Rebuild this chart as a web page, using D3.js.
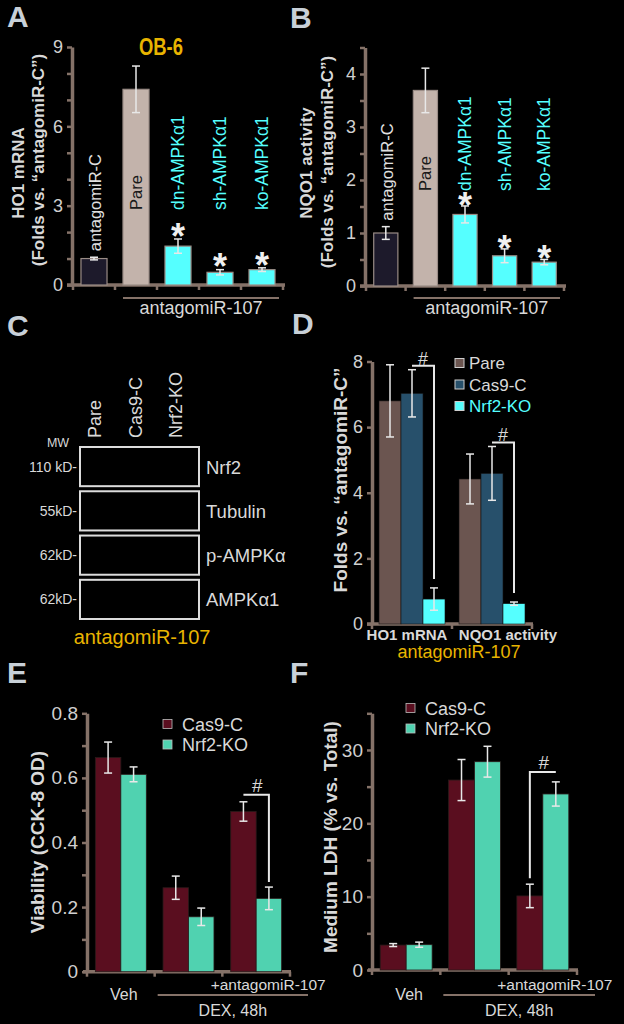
<!DOCTYPE html>
<html><head><meta charset="utf-8">
<script src="https://cdn.jsdelivr.net/npm/d3@7"></script>
<style>body{margin:0;background:#000;} svg{display:block;}</style>
</head><body>
<script>
// ---------------- DATA ----------------
const aCategories = ["antagomiR-C","Pare","dn-AMPKα1","sh-AMPKα1","ko-AMPKα1"];
const aValues = [1.0, 7.4, 1.47, 0.48, 0.58];
const aErrors = [0.05, 0.88, 0.27, 0.1, 0.07];
const aSignificant = [false, false, true, true, true];
const aTickValues = [0,1,2,3,4,5,6,7,8,9];
const aTickLabels = ["0","","","3","","","6","","","9"];

const bCategories = ["antagomiR-C","Pare","dn-AMPKα1","sh-AMPKα1","ko-AMPKα1"];
const bValues = [1.0, 3.69, 1.35, 0.57, 0.45];
const bErrors = [0.12, 0.42, 0.16, 0.13, 0.05];
const bSignificant = [false, false, true, true, true];
const bTickValues = [0,0.5,1,1.5,2,2.5,3,3.5,4,4.5];
const bTickLabels = ["0","","1","","2","","3","","4",""];

const cLanes = ["Pare","Cas9-C","Nrf2-KO"];
const cBlots = ["Nrf2","Tubulin","p-AMPKα","AMPKα1"];
const cMW = ["110 kD-","55kD-","62kD-","62kD-"];

const dGroups = ["HO1 mRNA","NQO1 activity"];
const dSeries = ["Pare","Cas9-C","Nrf2-KO"];
const dPare = [6.8, 4.42];
const dPareErr = [1.1, 0.76];
const dCas9 = [7.03, 4.59];
const dCas9Err = [0.72, 0.82];
const dNrf2 = [0.76, 0.62];
const dNrf2Err = [0.34, 0.05];
const dTickValues = [0,2,4,6,8];

const eGroups = ["Veh","DEX","DEX+antagomiR-107"];
const eSeries = ["Cas9-C","Nrf2-KO"];
const eCas9 = [0.663, 0.26, 0.496];
const eCas9Err = [0.048, 0.036, 0.03];
const eNrf2 = [0.611, 0.17, 0.227];
const eNrf2Err = [0.023, 0.027, 0.035];
const eTickValues = [0,0.1,0.2,0.3,0.4,0.5,0.6,0.7,0.8];
const eTickLabels = ["0","","0.2","","0.4","","0.6","","0.8"];

const fGroups = ["Veh","DEX","DEX+antagomiR-107"];
const fSeries = ["Cas9-C","Nrf2-KO"];
const fCas9 = [3.4, 25.9, 10.1];
const fCas9Err = [0.2, 2.8, 1.6];
const fNrf2 = [3.45, 28.4, 24.0];
const fNrf2Err = [0.35, 2.1, 1.65];
const fTickValues = [0,5,10,15,20,25,30,35];
const fTickLabels = ["0","","10","","20","","30",""];

// ---------------- STYLE ----------------
const FONT = '"Liberation Sans", Arial, Helvetica, sans-serif';
const AXIS = "#857268";
const TXT = "#d9d9d9";
const TICKTXT = "#d0d0d0";
const ERR = "#e8e8e8";
const GOLD = "#e8b400";
const CYAN = "#55ffff";
const LETTER = "#c8d0d8";
const abColors = ["#1d1a2b","#c3b3ab",CYAN,CYAN,CYAN];
const dColors = ["#6b5550","#27506b",CYAN];
const efColors = ["#5a0e1f","#50d2b0"];

const svg = d3.select("body").append("svg")
  .attr("width",624).attr("height",1024)
  .style("background","#000")
  .attr("font-family",FONT);
svg.append("rect").attr("width",624).attr("height",1024).attr("fill","#000");

// ---------------- HELPERS ----------------
function text(x,y,t,o={}){
  return svg.append("text").attr("x",x).attr("y",y).text(t)
    .attr("fill",o.fill||TXT).attr("font-size",o.size||16)
    .attr("font-weight",o.weight||"normal")
    .attr("text-anchor",o.anchor||"start");
}
function vtext(x,y,t,o={}){
  return svg.append("text").attr("transform",`translate(${x},${y}) rotate(-90)`)
    .attr("dy","0.35em").text(t)
    .attr("fill",o.fill||TXT).attr("font-size",o.size||16)
    .attr("font-weight",o.weight||"normal")
    .attr("text-anchor",o.anchor||"start");
}
function yAxis(x,y,vals,labels,size){
  const ax = d3.axisLeft(y).tickValues(vals).tickFormat((d,i)=>labels[i])
    .tickSize(5).tickSizeOuter(0).tickPadding(4);
  const g = svg.append("g").attr("transform",`translate(${x},0)`).call(ax)
    .attr("font-family",FONT).attr("font-size",size);
  g.select(".domain").attr("stroke",AXIS).attr("stroke-width",3.5);
  g.selectAll(".tick line").attr("stroke",AXIS).attr("stroke-width",2.5);
  g.selectAll(".tick text").attr("fill",TICKTXT);
  return g;
}
function xAxis(xs,xe,yPos,tickXs){
  svg.append("line").attr("x1",xs).attr("x2",xe).attr("y1",yPos).attr("y2",yPos)
    .attr("stroke",AXIS).attr("stroke-width",3.5);
  svg.selectAll(null).data(tickXs).join("line")
    .attr("x1",d=>d).attr("x2",d=>d).attr("y1",yPos).attr("y2",yPos+5)
    .attr("stroke",AXIS).attr("stroke-width",2.5);
}
function errBar(cx,yTop,yBot,w=8){
  svg.append("line").attr("x1",cx).attr("x2",cx).attr("y1",yTop).attr("y2",yBot).attr("stroke",ERR).attr("stroke-width",1.5);
  svg.append("line").attr("x1",cx-w/2).attr("x2",cx+w/2).attr("y1",yTop).attr("y2",yTop).attr("stroke",ERR).attr("stroke-width",1.5);
  svg.append("line").attr("x1",cx-w/2).attr("x2",cx+w/2).attr("y1",yBot).attr("y2",yBot).attr("stroke",ERR).attr("stroke-width",1.5);
}
function boundaries(x){
  const n = x.domain().length;
  return d3.range(n+1).map(i=>x.range()[0]+i*x.step());
}
function letter(x,y,t){ text(x,y,t,{size:30,weight:"bold",fill:LETTER}); }

// ---------------- PANEL A / B ----------------
function panelAB(cfg){
  const y = d3.scaleLinear().domain([0,cfg.max]).range([cfg.yBot,cfg.yTop]);
  const x = d3.scaleBand().domain(cfg.cats).range(cfg.xRange).paddingInner(cfg.pad).paddingOuter(cfg.pad/2);
  yAxis(cfg.xRange[0]-1,y,cfg.ticks,cfg.tickLabels,18);
  xAxis(cfg.xRange[0]-6,cfg.xRange[1]+2,cfg.yBot,boundaries(x));
  svg.selectAll(null).data(cfg.values).join("rect")
    .attr("x",(d,i)=>x(cfg.cats[i])).attr("width",x.bandwidth())
    .attr("y",d=>y(d)).attr("height",d=>cfg.yBot-y(d))
    .attr("fill",(d,i)=>abColors[i]).attr("stroke","#9a8c86").attr("stroke-width",1.2);
  cfg.values.forEach((v,i)=>{
    const cx = x(cfg.cats[i])+x.bandwidth()/2;
    errBar(cx,y(v+cfg.errors[i]),y(v-cfg.errors[i]));
    const top = y(v+cfg.errors[i]);
    if(i===0) vtext(cx+1,top-6,cfg.cats[i],{size:16.5,fill:"#e0e0e0"});
    else if(i===1) vtext(cx,cfg.labelBase,cfg.cats[i],{size:16.5,fill:"#1a1a1a"});
    else vtext(cx,cfg.labelBase,cfg.cats[i],{size:17.5,fill:CYAN});
    if(cfg.sig[i]) text(cx,top-cfg.starGap+0.55*36,"*",{size:36,weight:"bold",fill:"#f0f0f0",anchor:"middle"});
  });
  // group line
  const b = boundaries(x);
  svg.append("line").attr("x1",b[1]+8).attr("x2",b[5]-4).attr("y1",298).attr("y2",298).attr("stroke",AXIS).attr("stroke-width",2);
  text((b[1]+b[5])/2+2,314,"antagomiR-107",{size:18,fill:TXT,anchor:"middle"});
}

letter(7,27,"A");
panelAB({cats:aCategories,values:aValues,errors:aErrors,sig:aSignificant,max:9,yBot:285,yTop:47,
  xRange:[73,283],pad:0.38,ticks:aTickValues,tickLabels:aTickLabels,labelBase:210,starGap:10});
vtext(18,173,"HO1 mRNA",{size:17,weight:"bold",anchor:"middle"});
vtext(38,160,"(Folds vs. “antagomiR-C”)",{size:17,weight:"bold",anchor:"middle"});
text(161,55,"OB-6",{size:23,weight:"bold",fill:GOLD,anchor:"middle"}).attr("textLength",44).attr("lengthAdjust","spacingAndGlyphs");

letter(290,28,"B");
panelAB({cats:bCategories,values:bValues,errors:bErrors,sig:bSignificant,max:4.5,yBot:286,yTop:47.5,
  xRange:[366,564],pad:0.39,ticks:bTickValues,tickLabels:bTickLabels,labelBase:191,starGap:8});
vtext(306,163,"NQO1 activity",{size:17,weight:"bold",anchor:"middle"});
vtext(327,162,"(Folds vs. “antagomiR-C”)",{size:17,weight:"bold",anchor:"middle"});

// ---------------- PANEL C ----------------
letter(7,336,"C");
const cx = d3.scalePoint().domain(cLanes).range([94,175]);
cLanes.forEach(l=>vtext(cx(l)+1,438,l,{size:18,fill:TXT}));
const cy = d3.scaleBand().domain(cBlots).range([447,619]).paddingInner(0.115).paddingOuter(0);
text(58,447,"MW",{size:12.5,fill:TXT,anchor:"middle"});
svg.selectAll(null).data(cBlots).join("rect")
  .attr("x",80).attr("width",119).attr("y",d=>cy(d)).attr("height",cy.bandwidth())
  .attr("fill","none").attr("stroke","#dcdcdc").attr("stroke-width",2);
cBlots.forEach((b,i)=>{
  const mid = cy(b)+cy.bandwidth()/2;
  text(77,mid+5,cMW[i],{size:14,fill:TXT,anchor:"end"});
  text(206,mid+7,b,{size:18.5,fill:TXT});
});
text(142,644,"antagomiR-107",{size:20,fill:GOLD,anchor:"middle"});

// ---------------- PANEL D ----------------
letter(292,334,"D");
{
  const y = d3.scaleLinear().domain([0,8]).range([624,361.5]);
  const x0 = d3.scaleBand().domain(dGroups).range([372,532]).paddingInner(0.175).paddingOuter(0.0875);
  const x1 = d3.scaleBand().domain(dSeries).range([0,x0.bandwidth()]);
  yAxis(372,y,dTickValues,dTickValues.map(String),18);
  xAxis(367,533,624,boundaries(x0));
  const vals = [dPare,dCas9,dNrf2], errs=[dPareErr,dCas9Err,dNrf2Err];
  dSeries.forEach((s,si)=>{
    svg.selectAll(null).data(vals[si]).join("rect")
      .attr("x",(d,gi)=>x0(dGroups[gi])+x1(s)).attr("width",x1.bandwidth())
      .attr("y",d=>y(d)).attr("height",d=>624-y(d)).attr("fill",dColors[si])
      .attr("stroke","#111").attr("stroke-width",0.6);
  });
  dSeries.forEach((s,si)=>{
    vals[si].forEach((v,gi)=>{
      errBar(x0(dGroups[gi])+x1(s)+x1.bandwidth()/2,y(v+errs[si][gi]),y(v-errs[si][gi]));
    });
  });
  // # brackets
  dGroups.forEach((g,gi)=>{
    const xa = x0(g)+x1("Cas9-C")+x1.bandwidth()/2;
    const xb = x0(g)+x1("Nrf2-KO")+x1.bandwidth()/2;
    const yt = y(dCas9[gi]+dCas9Err[gi])-4;
    const yb = y(dNrf2[gi]+dNrf2Err[gi])-9;
    svg.append("path").attr("d",`M${xa},${yt}H${xb}V${yb}`).attr("fill","none").attr("stroke",ERR).attr("stroke-width",2);
    text((xa+xb)/2,yt-1,"#",{size:18,fill:TXT,anchor:"middle"});
  });
  // legend
  dSeries.forEach((s,i)=>{
    const ly = 363 + i*21.5;
    svg.append("rect").attr("x",455).attr("y",ly-4.5).attr("width",9).attr("height",9)
      .attr("fill",dColors[i]).attr("stroke","#cfcfcf").attr("stroke-width",1);
    text(469,ly+6,s,{size:17,fill:i===2?CYAN:TXT});
  });
  text(x0("HO1 mRNA")+x0.bandwidth()/2-5,640,"HO1 mRNA",{size:15,weight:"bold",anchor:"middle"});
  text(x0("NQO1 activity")+x0.bandwidth()/2+16,640,"NQO1 activity",{size:15,weight:"bold",anchor:"middle"});
  text(459,658,"antagomiR-107",{size:18,fill:GOLD,anchor:"middle"});
  vtext(340,480,"Folds vs. “antagomiR-C”",{size:19,weight:"bold",anchor:"middle"});
}

// ---------------- PANELS E / F ----------------
function panelEF(cfg){
  const y = d3.scaleLinear().domain([0,cfg.max]).range([cfg.yBot,cfg.yTop]);
  const x0 = d3.scaleBand().domain(cfg.groups).range(cfg.xRange).paddingInner(cfg.pad).paddingOuter(cfg.pad/2);
  const x1 = d3.scaleBand().domain(cfg.series).range([0,x0.bandwidth()]);
  yAxis(cfg.xRange[0],y,cfg.ticks,cfg.tickLabels,19);
  xAxis(cfg.xRange[0]-4,cfg.xRange[1]+1,cfg.yBot,boundaries(x0));
  cfg.series.forEach((s,si)=>{
    svg.selectAll(null).data(cfg.vals[si]).join("rect")
      .attr("x",(d,gi)=>x0(cfg.groups[gi])+x1(s)).attr("width",x1.bandwidth())
      .attr("y",d=>y(d)).attr("height",d=>cfg.yBot-y(d)).attr("fill",efColors[si])
      .attr("stroke","#2a1a1a").attr("stroke-width",0.8);
  });
  cfg.series.forEach((s,si)=>{
    cfg.vals[si].forEach((v,gi)=>{
      errBar(x0(cfg.groups[gi])+x1(s)+x1.bandwidth()/2,y(v+cfg.errs[si][gi]),y(v-cfg.errs[si][gi]));
    });
  });
  // bracket on 3rd group
  const g = cfg.groups[2];
  const xa = x0(g)+x1(cfg.series[0])+x1.bandwidth()/2;
  const xb = x0(g)+x1(cfg.series[1])+x1.bandwidth()/2;
  const topA = y(cfg.vals[0][2]+cfg.errs[0][2]);
  const topB = y(cfg.vals[1][2]+cfg.errs[1][2]);
  const yt = Math.min(topA,topB) - cfg.bracketGap;
  if(cfg.bracketDownAt===1)
    svg.append("path").attr("d",`M${xa},${yt}H${xb}V${topB-5}`).attr("fill","none").attr("stroke",ERR).attr("stroke-width",2);
  else
    svg.append("path").attr("d",`M${xa},${topA-6}V${yt}H${xb}`).attr("fill","none").attr("stroke",ERR).attr("stroke-width",2);
  text((xa+xb)/2+1,yt-3,"#",{size:19,fill:TXT,anchor:"middle"});
  // legend
  cfg.series.forEach((s,i)=>{
    const ly = cfg.legendY + i*20.5;
    svg.append("rect").attr("x",cfg.legendX).attr("y",ly-4.5).attr("width",9).attr("height",9)
      .attr("fill",efColors[i]).attr("stroke","#bdbdbd").attr("stroke-width",0.8);
    text(cfg.legendX+19,ly+6.5,s,{size:18,fill:TXT});
  });
  // x labels
  const b = boundaries(x0);
  text(x0(cfg.groups[0])+x0.bandwidth()/2+3,1000,"Veh",{size:16,anchor:"middle"});
  text(x0(cfg.groups[2])+x0.bandwidth()/2+12,990,"+antagomiR-107",{size:15.5,anchor:"middle"});
  const lx1 = b[1]+3, lx2 = b[3]+18;
  svg.append("line").attr("x1",lx1).attr("x2",lx2).attr("y1",995).attr("y2",995).attr("stroke",AXIS).attr("stroke-width",2);
  text((lx1+lx2)/2,1016,"DEX, 48h",{size:16,anchor:"middle"});
}

letter(7,683,"E");
panelEF({groups:eGroups,series:eSeries,vals:[eCas9,eNrf2],errs:[eCas9Err,eNrf2Err],max:0.8,
  yBot:971.7,yTop:713.3,xRange:[87,290],pad:0.247,ticks:eTickValues,tickLabels:eTickLabels,
  bracketGap:7,bracketDownAt:1,legendX:163,legendY:724});
vtext(37,842,"Viability (CCK-8 OD)",{size:19,weight:"bold",anchor:"middle"});

letter(290,683,"F");
panelEF({groups:fGroups,series:fSeries,vals:[fCas9,fNrf2],errs:[fCas9Err,fNrf2Err],max:35,
  yBot:970,yTop:713.3,xRange:[372,577],pad:0.24,ticks:fTickValues,tickLabels:fTickLabels,
  bracketGap:10,bracketDownAt:0,legendX:406,legendY:708});
vtext(330,837,"Medium LDH (% vs. Total)",{size:19,weight:"bold",anchor:"middle"});
</script>
</body></html>
